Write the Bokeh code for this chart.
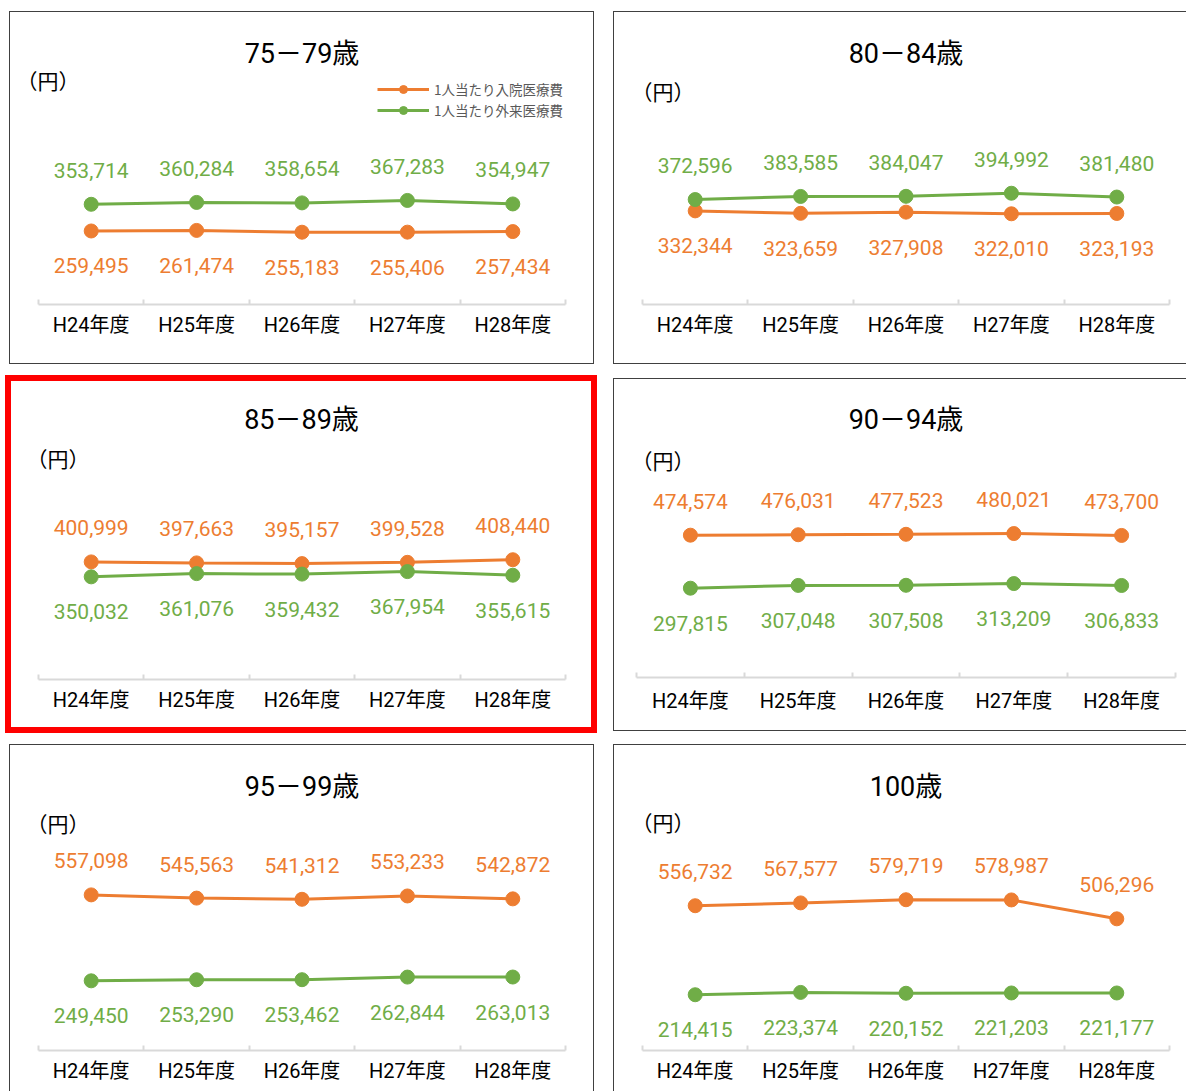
from bokeh.plotting import figure
from bokeh.models import (Range1d, LinearAxis, FixedTicker, Label, Legend,
                          LegendItem, ColumnDataSource, Row, Column)
from bokeh.core.properties import value
from bokeh.embed import file_html
from bokeh.resources import INLINE

# ---- data -------------------------------------------------------------
years = ["H24年度", "H25年度", "H26年度", "H27年度", "H28年度"]
age_groups = ["75－79歳", "80－84歳", "85－89歳", "90－94歳", "95－99歳", "100歳"]
series_names = ["1人当たり入院医療費", "1人当たり外来医療費"]
unit_label = "（円）"

inpatient_75_79 = [259495, 261474, 255183, 255406, 257434]
inpatient_80_84 = [332344, 323659, 327908, 322010, 323193]
inpatient_85_89 = [400999, 397663, 395157, 399528, 408440]
inpatient_90_94 = [474574, 476031, 477523, 480021, 473700]
inpatient_95_99 = [557098, 545563, 541312, 553233, 542872]
inpatient_100 = [556732, 567577, 579719, 578987, 506296]

outpatient_75_79 = [353714, 360284, 358654, 367283, 354947]
outpatient_80_84 = [372596, 383585, 384047, 394992, 381480]
outpatient_85_89 = [350032, 361076, 359432, 367954, 355615]
outpatient_90_94 = [297815, 307048, 307508, 313209, 306833]
outpatient_95_99 = [249450, 253290, 253462, 262844, 263013]
outpatient_100 = [214415, 223374, 220152, 221203, 221177]

inpatient = [inpatient_75_79, inpatient_80_84, inpatient_85_89,
             inpatient_90_94, inpatient_95_99, inpatient_100]
outpatient = [outpatient_75_79, outpatient_80_84, outpatient_85_89,
              outpatient_90_94, outpatient_95_99, outpatient_100]

# ---- styling ----------------------------------------------------------
ORANGE = "#ED7D31"
GREEN = "#70AD47"
FONT = "Roboto, 'Noto Sans CJK JP'"
CJK = "'Noto Sans CJK JP'"
EDGE = "#404040"


def shadow(sides, color=EDGE, width=1, top_gap=0):
    parts = {
        "l": f"inset {width}px 0 0 0 {color}",
        "r": f"inset -{width}px 0 0 0 {color}",
        "t": f"inset 0 {width + top_gap}px 0 0 {color}",
        "b": f"inset 0 -{width}px 0 0 {color}",
    }
    rules = [parts[s] for s in sides]
    if top_gap:
        # white strip above a border line that starts a few px down
        rules.insert(0, f"inset 0 {top_gap}px 0 0 #FFFFFF")
    return {"box-shadow": ", ".join(rules)}


# geometry of each panel (pixels, relative to its own box);
# axis_left / axis_w give the extent of the category axis,
# pad_l / pad_r the frame inset (the title is centred on the frame)
panels = [
    dict(w=585, h=353, axis_left=29, axis_w=527, pad_l=10, pad_r=10,
         top=56, bottom=60, ypx=3500,
         inp_above=False, unit=(21, 67), legend=True, tick_pad=2,
         styles=shadow("lrtb")),
    dict(w=573, h=353, axis_left=29, axis_w=527, pad_l=22, pad_r=10,
         top=58, bottom=60, ypx=3550,
         inp_above=False, unit=(32, 79), legend=False, tick_pad=2,
         styles=shadow("ltb")),
    dict(w=592, h=358, axis_left=33, axis_w=527, pad_l=10, pad_r=10,
         top=60, bottom=54, ypx=3410,
         inp_above=True, unit=(35, 82), legend=False, tick_pad=2,
         styles={"box-shadow": "inset 0 0 0 6px #FF0000"}),
    dict(w=573, h=356, axis_left=23, axis_w=539, pad_l=22, pad_r=10,
         top=56, bottom=49, ypx=3215,
         inp_above=True, unit=(32, 81), legend=False, tick_pad=5,
         styles=shadow("ltb", top_gap=3)),
    dict(w=585, h=347, axis_left=29, axis_w=527, pad_l=10, pad_r=10,
         top=58, bottom=41, ypx=3580,
         inp_above=True, unit=(31, 78), legend=False, tick_pad=2,
         styles=shadow("lrt")),
    dict(w=573, h=347, axis_left=29, axis_w=527, pad_l=22, pad_r=10,
         top=58, bottom=40, ypx=3830,
         inp_above=True, unit=(32, 78), legend=False, tick_pad=2,
         styles=shadow("lt")),
]

xs = [i + 1 for i in range(len(years))]
x_lo, x_hi = xs[0] - 0.5, xs[-1] + 0.5
ABOVE, BELOW = -34, 35


def make_panel(idx, g):
    n = len(years)
    cat_w = g["axis_w"] / n
    frame_right = g["w"] - g["pad_r"]
    x_start = x_lo - (g["axis_left"] - g["pad_l"]) / cat_w
    x_end = x_hi + (frame_right - g["axis_left"] - g["axis_w"]) / cat_w
    frame_h = g["h"] - g["top"] - g["bottom"]
    p = figure(width=g["w"], height=g["h"], output_backend="svg",
               toolbar_location=None,
               x_range=Range1d(x_start, x_end),
               y_range=Range1d(0, frame_h * g["ypx"]),
               x_axis_location=None, y_axis_location=None,
               min_border_left=g["pad_l"], min_border_right=g["pad_r"],
               min_border_top=g["top"], min_border_bottom=g["bottom"],
               background_fill_color=None, border_fill_color=None,
               outline_line_color=None, styles=g["styles"])
    p.grid.visible = False

    p.title.text = age_groups[idx]
    p.title.align = "center"
    p.title.standoff = 0
    p.title.text_font = FONT
    p.title.text_font_size = "27px"
    p.title.text_font_style = "normal"
    p.title.text_color = "black"

    axis = LinearAxis(
        bounds=(x_lo, x_hi),
        ticker=FixedTicker(ticks=xs, minor_ticks=[x - 0.5 for x in xs] + [x_hi]),
        major_label_overrides={x: yr for x, yr in zip(xs, years)},
        axis_line_color="#D9D9D9", axis_line_width=2,
        major_tick_line_color=None,
        minor_tick_line_color="#D9D9D9", minor_tick_line_width=2,
        minor_tick_in=5, minor_tick_out=0,
        major_label_text_font=FONT, major_label_text_font_size="20px",
        major_label_text_color="black", major_label_standoff=g["tick_pad"])
    p.add_layout(axis, "below")

    renderers = []
    for vals, color, above in ((inpatient[idx], ORANGE, g["inp_above"]),
                               (outpatient[idx], GREEN, not g["inp_above"])):
        src = ColumnDataSource(dict(x=xs, y=vals, label=[f"{v:,}" for v in vals]))
        ln = p.line("x", "y", source=src, line_color=color, line_width=3)
        sc = p.scatter("x", "y", source=src, size=14, fill_color=color,
                       line_color=color)
        p.text("x", "y", text="label", source=src, text_font=value(FONT),
               text_font_size="21px", text_color=color, text_align="center",
               text_baseline="alphabetic", y_offset=ABOVE if above else BELOW)
        renderers.append([ln, sc])

    # unit caption at the top left
    ux, uy = g["unit"]
    frame_bottom = g["h"] - g["bottom"]
    p.add_layout(Label(x=x_lo + (ux - 14 - g["axis_left"]) / cat_w,
                       y=(frame_bottom - uy) * g["ypx"],
                       text=unit_label, text_font=CJK, text_font_size="21px",
                       text_color="black", text_baseline="middle",
                       text_align="left"))

    if g["legend"]:
        legend = Legend(
            items=[LegendItem(label=series_names[0], renderers=renderers[0]),
                   LegendItem(label=series_names[1], renderers=renderers[1])],
            location=(358, 184), glyph_width=52, glyph_height=20,
            label_height=20, label_standoff=5, padding=0, margin=0, spacing=1,
            border_line_color=None, background_fill_alpha=0,
            label_text_font=CJK, label_text_font_size="13.5px",
            label_text_color="#595959")
        p.add_layout(legend)
    return p


figs = [make_panel(i, g) for i, g in enumerate(panels)]

layout = Column(children=[
    Row(children=[figs[0], figs[1]], spacing=19, margin=(11, 0, 0, 9)),
    Row(children=[figs[2], figs[3]], spacing=16, margin=(11, 0, 0, 5)),
    Row(children=[figs[4], figs[5]], spacing=19, margin=(11, 0, 0, 9)),
])

open("out.html", "w").write(file_html(layout, INLINE))
